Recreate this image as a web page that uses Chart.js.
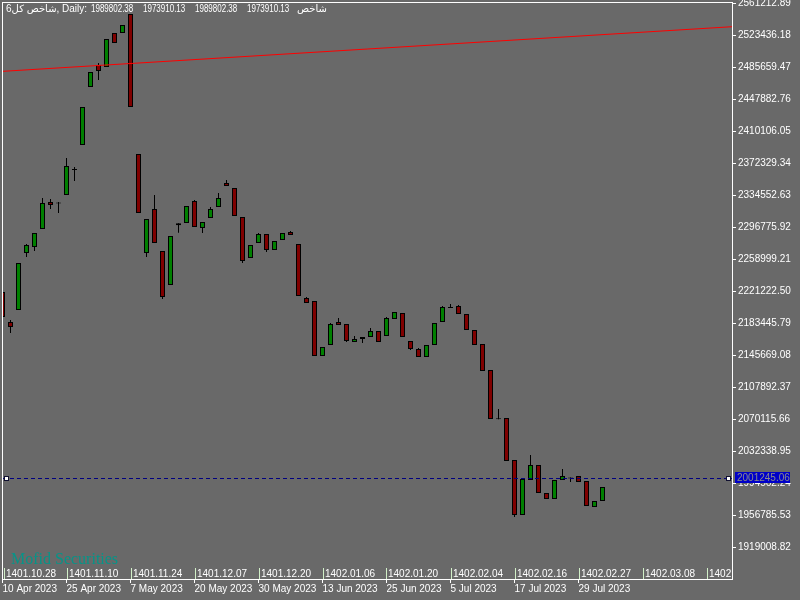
<!DOCTYPE html>
<html>
<head>
<meta charset="utf-8">
<script src="https://cdn.jsdelivr.net/npm/chart.js@4.4.0/dist/chart.umd.min.js"></script>
<style>
  html, body { margin: 0; padding: 0; background: #696969; }
  #wrap { width: 800px; height: 600px; }
</style>
</head>
<body>
<div id="wrap"><canvas id="chart"></canvas></div>
<script>
// daily candles
var opens = [2220220, 2184825, 2198983, 2266233, 2273312, 2294549, 2326404, 2324635, 2334663, 2364160,
  2393655, 2462085, 2488041, 2485681, 2525796, 2525796, 2548212, 2383036, 2266233, 2318146,
  2268593, 2228478, 2298914, 2301628, 2327584, 2295729, 2307527, 2320505, 2348821, 2342922,
  2308707, 2260334, 2278031, 2288650, 2269772, 2281571, 2291010, 2276852, 2213140, 2209601,
  2144710, 2157689, 2184825, 2182465, 2161228, 2164768, 2167128, 2174206, 2168307, 2188364,
  2195443, 2162408, 2152969, 2143530, 2157689, 2184825, 2202522, 2203702, 2194263, 2175386,
  2158869, 2128193, 2071207, 2071561, 2022008, 1957117, 1998411, 2016109, 1983074, 1975995,
  1998411, 2000180, 2003131, 1997231, 1966556, 1973635];
var highs = [2222579, 2187184, 2254435, 2276852, 2289830, 2331124, 2329944, 2326404, 2378317, 2367699,
  2438488, 2479782, 2490401, 2518717, 2525796, 2535234, 2548212, 2383036, 2306347, 2334663,
  2268593, 2286290, 2301274, 2321685, 2328764, 2302808, 2320505, 2337023, 2352361, 2342922,
  2308707, 2275672, 2289830, 2288650, 2280391, 2289830, 2292189, 2276852, 2214320, 2209601,
  2155329, 2183645, 2189544, 2182465, 2168307, 2167128, 2177746, 2174206, 2190724, 2196623,
  2195443, 2162408, 2154149, 2157689, 2183645, 2203702, 2206062, 2204882, 2194263, 2175386,
  2158869, 2128193, 2082180, 2071561, 2022008, 1999591, 2027907, 2016109, 1983074, 1998411,
  2011390, 2001360, 2003131, 1997231, 1973635, 1990153];
var lows = [2189544, 2171847, 2198983, 2261514, 2268593, 2294549, 2318146, 2313426, 2334663, 2351181,
  2393655, 2462085, 2470344, 2485681, 2513997, 2525796, 2438488, 2313426, 2261514, 2278031,
  2211961, 2228478, 2290184, 2301628, 2296909, 2289830, 2307527, 2320505, 2345282, 2309887,
  2254435, 2260334, 2278031, 2267413, 2269772, 2281571, 2287470, 2215500, 2207241, 2144710,
  2144710, 2157689, 2181285, 2161228, 2161228, 2160048, 2167128, 2161228, 2168307, 2188364,
  2167128, 2151789, 2143530, 2143530, 2157689, 2184825, 2201342, 2194263, 2175386, 2157689,
  2127013, 2070381, 2070027, 2020828, 1954758, 1957117, 1998411, 1983074, 1975995, 1975995,
  1998411, 1996049, 1996049, 1967736, 1966556, 1973635];
var closes = [2190724, 2178926, 2254435, 2275672, 2289830, 2325225, 2322865, 2325815, 2368878, 2365339,
  2438488, 2479782, 2480962, 2518717, 2513997, 2535234, 2438488, 2313426, 2306347, 2278031,
  2214320, 2286290, 2301274, 2321685, 2296909, 2302808, 2318146, 2331124, 2345282, 2309887,
  2256794, 2275672, 2288650, 2269772, 2280391, 2289830, 2287470, 2215500, 2207241, 2144710,
  2155329, 2182465, 2181285, 2162408, 2164768, 2167128, 2174206, 2161228, 2189544, 2196623,
  2167128, 2152969, 2143530, 2157689, 2183645, 2202522, 2201342, 2194263, 2175386, 2157689,
  2127013, 2070381, 2070027, 2020828, 1957117, 1999591, 2016109, 1983074, 1975995, 1998411,
  2003131, 2001360, 1996049, 1967736, 1973635, 1990153];

var gregorianLabels = ['10 Apr 2023', '25 Apr 2023', '7 May 2023', '20 May 2023', '30 May 2023',
  '13 Jun 2023', '25 Jun 2023', '5 Jul 2023', '17 Jul 2023', '29 Jul 2023'];
var persianLabels = ['1401.10.28', '1401.11.10', '1401.11.24', '1401.12.07', '1401.12.20', '1402.01.06',
  '1402.01.20', '1402.02.04', '1402.02.16', '1402.02.27', '1402.03.08', '1402.03.20'];
var yTicks = [1919008.82, 1956785.53, 1994562.24, 2032338.95, 2070115.66, 2107892.37, 2145669.08,
  2183445.79, 2221222.50, 2258999.21, 2296775.92, 2334552.63, 2372329.34, 2410106.05, 2447882.76,
  2485659.47, 2523436.18, 2561212.89];
var labelStep = 8;

// red trend line
var trendX = [0.06, 91.19];
var trendY = [2480600, 2533240];

var currentPrice = 2001245.06;
var symbolName = 'شاخص کل6';
var titleValues = [1989802.38, 1973910.13, 1989802.38, 1973910.13];

var bodyColors = closes.map(function(c, i) { return c >= opens[i] ? '#008000' : '#800000'; });
var bodyData = opens.map(function(o, i) { return {x: i, y: [o, closes[i]]}; });
var wickData = lows.map(function(l, i) { return {x: i, y: [l, highs[i]]}; });
var trendData = trendX.map(function(x, i) { return {x: x, y: trendY[i]}; });

var FONT = '"Liberation Sans", "DejaVu Sans", sans-serif';
Chart.defaults.font.family = FONT;
Chart.defaults.font.size = 10;

var overlay = {
  id: 'overlay',
  beforeDraw: function(chart) {
    var ctx = chart.ctx;
    ctx.save();
    ctx.fillStyle = '#696969';
    ctx.fillRect(0, 0, chart.width, chart.height);
    ctx.restore();
  },
  afterDraw: function(chart) {
    var ctx = chart.ctx, a = chart.chartArea;
    var xs = chart.scales.x, ys = chart.scales.y;
    ctx.save();

    // watermark
    ctx.font = '16px "Liberation Serif", serif';
    ctx.fillStyle = '#079488';
    ctx.textAlign = 'left';
    ctx.textBaseline = 'alphabetic';
    ctx.fillText('Mofid Securities', 11, 564);

    // persian dates inside the plot
    ctx.save();
    ctx.beginPath();
    ctx.rect(a.left, a.top, a.right - a.left, a.bottom - a.top);
    ctx.clip();
    ctx.font = '10px ' + FONT;
    ctx.textBaseline = 'middle';
    ctx.lineWidth = 1;
    persianLabels.forEach(function(lbl, k) {
      var px = Math.max(Math.round(xs.getPixelForValue(k * labelStep)), a.left + 1) + 0.5;
      ctx.strokeStyle = '#d2f0c8';
      ctx.beginPath();
      ctx.moveTo(px, a.bottom - 11);
      ctx.lineTo(px, a.bottom);
      ctx.stroke();
      ctx.fillStyle = '#ffffff';
      ctx.fillText(lbl, px + 1.5, a.bottom - 4.5);
    });
    ctx.restore();

    // title
    ctx.fillStyle = '#ffffff';
    ctx.font = '10px ' + FONT;
    ctx.textBaseline = 'middle';
    ctx.fillText(symbolName + ', Daily:', 6, 9);
    titleValues.forEach(function(v, k) {
      ctx.save();
      ctx.translate(91 + 52 * k, 9);
      ctx.scale(0.8, 1);
      ctx.fillText(v.toFixed(2), 0, 0);
      ctx.restore();
    });
    ctx.fillText('شاخص', 297, 9);

    // current price line
    var py = Math.round(ys.getPixelForValue(currentPrice)) + 0.5;
    ctx.strokeStyle = '#000080';
    ctx.lineWidth = 1;
    ctx.setLineDash([4, 3]);
    ctx.beginPath();
    ctx.moveTo(a.left, py);
    ctx.lineTo(a.right, py);
    ctx.stroke();
    ctx.setLineDash([]);
    ctx.fillStyle = '#ffffff';
    ctx.strokeStyle = '#101030';
    [a.left + 1.5, a.right - 5.5].forEach(function(sx) {
      ctx.fillRect(sx, py - 2, 4, 4);
      ctx.strokeRect(sx, py - 2, 4, 4);
    });

    // frame
    ctx.strokeStyle = '#ffffff';
    ctx.strokeRect(a.left - 0.5, a.top - 0.5, a.right - a.left + 1, a.bottom - a.top + 1);

    // price label
    ctx.fillStyle = '#0000c8';
    ctx.fillRect(a.right + 3, py - 6.5, 55, 11);
    ctx.fillStyle = '#8a8a8a';
    ctx.font = '10px ' + FONT;
    ctx.fillText(currentPrice.toFixed(2), a.right + 5, py);

    ctx.restore();
  }
};

new Chart(document.getElementById('chart'), {
  type: 'bar',
  data: {
    datasets: [
      {
        type: 'line',
        data: trendData,
        borderColor: '#ff0000',
        borderWidth: 1,
        pointRadius: 0,
        order: 0
      },
      {
        data: bodyData,
        backgroundColor: bodyColors,
        borderColor: '#000000',
        borderWidth: 1,
        borderSkipped: false,
        barThickness: 5,
        grouped: false,
        inflateAmount: 0,
        order: 1
      },
      {
        data: wickData,
        backgroundColor: '#000000',
        borderWidth: 0,
        barThickness: 1,
        grouped: false,
        inflateAmount: 0,
        order: 2
      }
    ]
  },
  options: {
    responsive: true,
    maintainAspectRatio: false,
    animation: false,
    layout: { padding: { top: 3, left: 3, right: 0, bottom: 0 } },
    plugins: {
      legend: { display: false },
      tooltip: { enabled: false }
    },
    scales: {
      x: {
        type: 'linear',
        min: 0.0625,
        max: 91.1875,
        offset: false,
        afterBuildTicks: function(s) {
          s.ticks = gregorianLabels.map(function(_, k) { return {value: k * labelStep}; });
        },
        afterFit: function(s) {
          s.height = 21;
          s.paddingLeft = 0;
          s.paddingRight = 0;
        },
        border: { display: false },
        grid: { drawOnChartArea: false, offset: false, color: '#ffffff', tickLength: 4 },
        ticks: {
          color: '#ffffff',
          padding: 0,
          align: 'start',
          maxRotation: 0,
          autoSkip: false,
          callback: function(v) { return gregorianLabels[Math.round(v / labelStep)]; }
        }
      },
      y: {
        type: 'linear',
        position: 'right',
        min: 1881630,
        max: 2561212.89,
        afterBuildTicks: function(s) {
          s.ticks = yTicks.map(function(v) { return {value: v}; });
        },
        afterFit: function(s) {
          s.width = 68;
          s.paddingTop = 0;
          s.paddingBottom = 0;
        },
        border: { display: false },
        grid: { drawOnChartArea: false, color: '#ffffff', tickLength: 4 },
        ticks: {
          color: '#ffffff',
          padding: 2,
          callback: function(v) { return v.toFixed(2); }
        }
      }
    }
  },
  plugins: [overlay]
});
</script>
</body>
</html>
